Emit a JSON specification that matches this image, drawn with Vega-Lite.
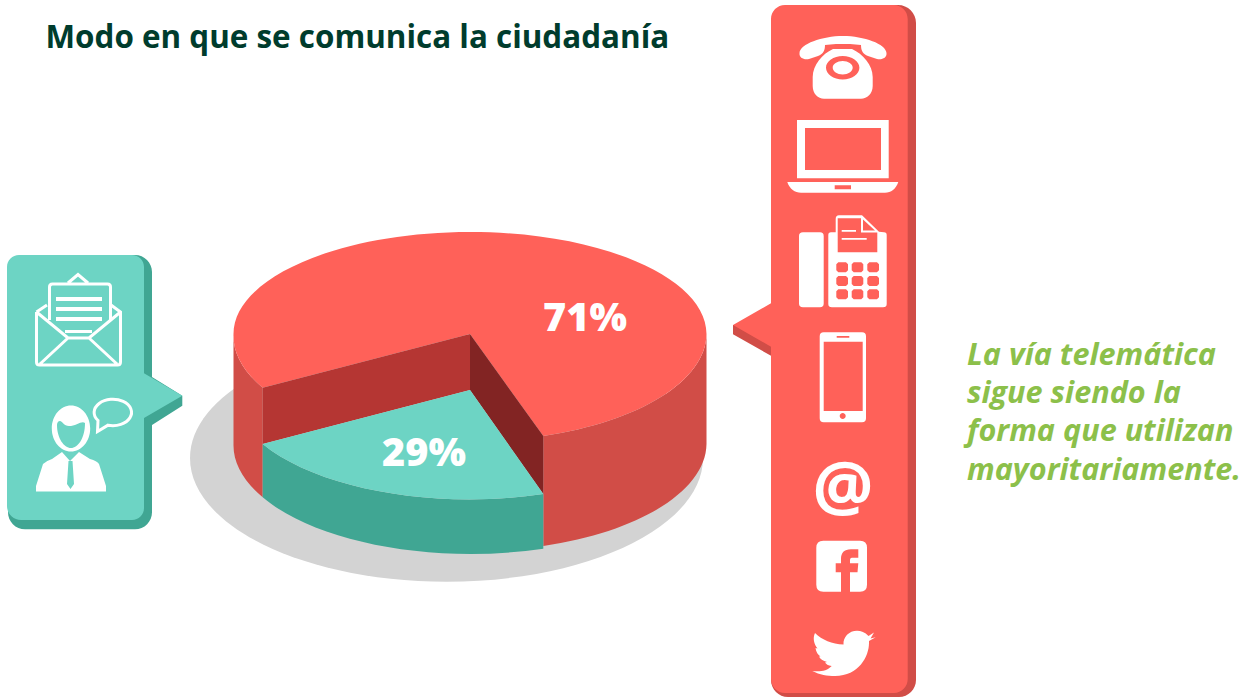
{
"$schema":"https://vega.github.io/schema/vega-lite/v6.json",
"width":1252,"height":697,"autosize":{"type":"fit","contains":"padding"},"padding":0,"background":"#ffffff",
"config":{"view":{"stroke":null}},
"datasets":{
"piezas":[
{"pieza":"sombra","x":470,"y":334},
{"pieza":"lado_izquierdo","x":470,"y":334},
{"pieza":"lado_derecho","x":470,"y":334},
{"pieza":"cara_71","x":470,"y":334},
{"pieza":"pared_izquierda","x":470,"y":334},
{"pieza":"pared_fondo","x":470,"y":334},
{"pieza":"lado_29","x":470,"y":334},
{"pieza":"cara_29","x":470,"y":334},
{"pieza":"globo_verde_fondo","x":0,"y":250},
{"pieza":"globo_verde","x":0,"y":250},
{"pieza":"globo_rojo_fondo","x":730,"y":0},
{"pieza":"globo_rojo","x":730,"y":0},
{"pieza":"lineas_carta","x":0,"y":250},
{"pieza":"persona","x":0,"y":250},
{"pieza":"telefono","x":730,"y":0},
{"pieza":"portatil","x":730,"y":0},
{"pieza":"fax","x":730,"y":0},
{"pieza":"movil","x":730,"y":310},
{"pieza":"facebook","x":730,"y":310},
{"pieza":"twitter","x":730,"y":310}
],
"trazos":[
{"pieza":"sobre","x":0,"y":250},
{"pieza":"bocadillo","x":0,"y":250}
],
"titulo":[{"texto":"Modo en que se comunica la ciudadanía","x":45.5,"y":48}],
"porcentajes":[{"categoria":"Vía telemática","valor":71,"texto":"71%","x":585,"y":331},{"categoria":"Otras vías","valor":29,"texto":"29%","x":424,"y":466}],
"arroba":[{"texto":"@","x":843,"y":510}],
"nota":[
{"texto":"La vía telemática","x":967,"y":365},
{"texto":"sigue siendo la","x":967,"y":403},
{"texto":"forma que utilizan","x":967,"y":441},
{"texto":"mayoritariamente.","x":967,"y":480}
]
},
"layer":[
{"data":{"name":"piezas"},
"mark":{"type":"point","filled":true,"size":4,"opacity":1,"strokeWidth":0},
"encoding":{
"x":{"field":"x","type":"quantitative","scale":{"domain":[0,1252],"nice":false,"zero":false},"axis":null},
"y":{"field":"y","type":"quantitative","scale":{"domain":[0,697],"range":[0,697],"nice":false,"zero":false},"axis":null},
"color":{"field":"pieza","type":"nominal","legend":null,"scale":{
"domain":["sombra","lado_izquierdo","lado_derecho","cara_71","pared_izquierda","pared_fondo","lado_29","cara_29","globo_verde_fondo","globo_verde","globo_rojo_fondo","globo_rojo","lineas_carta","persona","telefono","portatil","fax","movil","facebook","twitter"],
"range":["#d3d3d3","#d14d47","#d14d47","#ff6159","#b53633","#822423","#40a693","#6dd4c4","#40a693","#6dd4c4","#d14d47","#ff6159","#ffffff","#ffffff","#ffffff","#ffffff","#ffffff","#ffffff","#ffffff","#ffffff"]}},
"shape":{"field":"pieza","type":"nominal","legend":null,"scale":{
"domain":["sombra","lado_izquierdo","lado_derecho","cara_71","pared_izquierda","pared_fondo","lado_29","cara_29","globo_verde_fondo","globo_verde","globo_rojo_fondo","globo_rojo","lineas_carta","persona","telefono","portatil","fax","movil","facebook","twitter"],
"range":[
"M-280 124 A256.5 123.7 0 1 0 233 124 A256.5 123.7 0 1 0 -280 124 Z",
"M-236.5 0 A236.5 108 0 0 0 -207.3 53.7 L-207.3 163.3 A236.5 108 0 0 1 -236.5 110 Z",
"M73.3 102 A236.5 108 0 0 0 236.5 0 L236.5 110 A236.5 108 0 0 1 73.3 212 Z",
"M-207.3 53.7 L0 0 L73.3 102 A236.5 108 0 0 0 236.5 0 A236.5 102 0 0 0 -236.5 0 A236.5 108 0 0 0 -207.3 53.7 Z",
"M-207.3 53.7 L0 0 L0 56 L-207.3 110 Z",
"M0 0 L73.3 102 L73.3 160 L0 56 Z",
"M-207.3 110 A236.5 108 0 0 0 73.3 160 L73.3 214.7 A236.5 108 0 0 1 -207.3 163.3 Z",
"M0 56 L-207.3 110 A236.5 108 0 0 0 73.3 160 Z",
"M20 5 L135 5 A17 17 0 0 1 152 22 L152 127 L182.3 145.7 L182.3 155.7 L152 175 L152 262 A17 17 0 0 1 135 279.3 L25 279.3 A17 17 0 0 1 8 262 L8 17 Z",
"M19 5 L132 5 A12 12 0 0 1 144 17 L144 123.3 L182.3 145.7 L144 168 L144 258 A12 12 0 0 1 132 270 L21 270 A14 14 0 0 1 7 256 L7 17 A12 12 0 0 1 19 5 Z",
"M60 5 L168 5 A18 18 0 0 1 186 23 L186 680 A17 17 0 0 1 169 697 L58 697 A17 17 0 0 1 41 680 L41 19 Z M3 325 L41 325 L41 355.7 L3 334.3 Z",
"M55 5 L164 5 A14 14 0 0 1 177.7 19 L177.7 679 A14 14 0 0 1 164 693 L55 693 A14 14 0 0 1 41 679 L41 346.7 L3 325 L41 303.3 L41 19 A14 14 0 0 1 55 5 Z",
"M56 47 L102 47 L102 51 L56 51 Z M56 57 L102 57 L102 61 L56 61 Z M56 67 L102 67 L102 71 L56 71 Z",
"M51.8 178.5 A19.2 23 0 1 1 90.2 178.5 A19.2 23 0 1 1 51.8 178.5 Z M57 175 C57 188 64 198 71 198 C78 198 85 188 85 173 C82 170 76 176 69 176 C64 176 62 171 60 171 C58 171 57 173 57 175 Z M36 241.5 L36 236 L43 214 Q46 211 52 209 L62 202 L70 211 L79 202 L90 209 Q97 211 99 214 L106 236 L106 241.5 Z M68.5 211 L67 234 L70.5 239 L74 234 L72.5 211 Z",
"M69.5 53 C70 44 92 36 113 36 C134 36 156 44 156.5 53 C157 58 152 60 147 59 L138 56 C133 54 131 51 131 45 L120 44 L106 44 L95 45 C95 51 93 54 88 56 L79 59 C74 60 69 58 69.5 53 Z M82.7 77 C83 65 92 54 103 49 L122 49 C133 54 142.7 65 142.7 77 L142.7 86 C142.7 94 137 98.7 131 98.7 L94 98.7 C88 98.7 82.7 94 82.7 86 Z M96 67.7 A16.7 11.7 0 1 0 129.4 67.7 A16.7 11.7 0 1 0 96 67.7 Z M102.7 67.7 A10 6.7 0 1 1 122.7 67.7 A10 6.7 0 1 1 102.7 67.7 Z",
"M67 120 L158.7 120 L158.7 178.3 L67 178.3 Z M75 128 L75 170 L151 170 L151 128 Z M57.3 182 L168.3 182 C166 189 161 192.7 155 192.7 L71 192.7 C65 192.7 59.5 189 57.3 182 Z M104.7 185.3 L104.7 189.3 L121 189.3 L121 185.3 Z",
"M69 236 Q69 232.3 73 232.3 L90 232.3 Q93.7 232.3 93.7 236 L93.7 303.5 Q93.7 307.3 90 307.3 L73 307.3 Q69 307.3 69 303.5 Z M98.3 235 Q98.3 232.3 101 232.3 L105.7 232.3 L105.7 219 Q105.7 215.3 109 215.3 L132 215.3 L149 231.7 L154 232.3 Q156.7 232.3 156.7 235 L156.7 304 Q156.7 307.3 153 307.3 L102 307.3 Q98.3 307.3 98.3 304 Z M107.7 218.3 L107.7 252.3 L147.3 252.3 L147.3 232.5 L131 232.5 L131 218.3 Z M133 219.5 L133 230.5 L145 230.5 Z M111.7 230 L126 230 L126 231.7 L111.7 231.7 Z M111.7 238 L136.7 238 L136.7 239.7 L111.7 239.7 Z M108.3 262.3 L106.3 264.3 L106.3 270.3 L108.3 272.3 L116 272.3 L118 270.3 L118 264.3 L116 262.3 Z M123.7 262.3 L121.7 264.3 L121.7 270.3 L123.7 272.3 L131.3 272.3 L133.3 270.3 L133.3 264.3 L131.3 262.3 Z M139.3 262.3 L137.3 264.3 L137.3 270.3 L139.3 272.3 L147 272.3 L149 270.3 L149 264.3 L147 262.3 Z M108.3 276 L106.3 278 L106.3 284 L108.3 286 L116 286 L118 284 L118 278 L116 276 Z M123.7 276 L121.7 278 L121.7 284 L123.7 286 L131.3 286 L133.3 284 L133.3 278 L131.3 276 Z M139.3 276 L137.3 278 L137.3 284 L139.3 286 L147 286 L149 284 L149 278 L147 276 Z M108.3 289.3 L106.3 291.3 L106.3 297.3 L108.3 299.3 L116 299.3 L118 297.3 L118 291.3 L116 289.3 Z M123.7 289.3 L121.7 291.3 L121.7 297.3 L123.7 299.3 L131.3 299.3 L133.3 297.3 L133.3 291.3 L131.3 289.3 Z M139.3 289.3 L137.3 291.3 L137.3 297.3 L139.3 299.3 L147 299.3 L149 297.3 L149 291.3 L147 289.3 Z",
"M93.7 22.3 L132 22.3 Q136 22.3 136 26.3 L136 108.3 Q136 112.3 132 112.3 L93.7 112.3 Q89.7 112.3 89.7 108.3 L89.7 26.3 Q89.7 22.3 93.7 22.3 Z M93.7 31.7 L93.7 101 L132.7 101 L132.7 31.7 Z M106.7 26 L106.7 27.7 L119.3 27.7 L119.3 26 Z M109.7 106 A3 3 0 1 0 115.7 106 A3 3 0 1 0 109.7 106 Z",
"M93.3 230.7 L130 230.7 Q137 230.7 137 237.7 L137 274.7 Q137 281.7 130 281.7 L93.3 281.7 Q86.3 281.7 86.3 274.7 L86.3 237.7 Q86.3 230.7 93.3 230.7 Z M128.3 239.3 L121 239.3 C114 239.3 111 243 111 249 L111 253.3 L105.7 253.3 L105.7 262.3 L111 262.3 L111 281.7 L120 281.7 L120 262.3 L127.5 262.3 L128.3 253.3 L120 253.3 L120 250 C120 248 121 247.7 123 247.7 L128.3 247.7 Z",
"M144 322.5 L138.5 326 C135 322 131 320.7 127 320.7 C119 320.7 113 327 113.5 334.5 C102 334 92 330 85 323 C82.5 328 84 334 87.5 338.5 L85.5 338 C86 342 88 345 90.5 346.5 L89 346.5 C90 349 93 351 97 352 L95 352.5 C96 354 98 355.5 101.7 356 C97 361 90 362 82.3 361 C90 365 97 366 105 366 C129 366 139 346 139 333 L139 331 L145.7 327.3 L140.5 328.5 Z"
]}}
}},
{"data":{"name":"trazos"},
"mark":{"type":"point","filled":false,"size":4,"opacity":1,"stroke":"#ffffff","strokeWidth":3},
"encoding":{
"x":{"field":"x","type":"quantitative","axis":null},
"y":{"field":"y","type":"quantitative","axis":null},
"shape":{"field":"pieza","type":"nominal","legend":null,"scale":{
"domain":["sobre","bocadillo"],
"range":[
"M36.5 62 L36.5 112 Q36.5 115 39.5 115 L117.5 115 Q120.5 115 120.5 112 L120.5 62 L111 55 M36.5 62 L47 55 M36.5 62 L68 88 L89 88 L120.5 62 M68 88 L40 114 M89 88 L117 114 M49.5 70 L49.5 37 Q49.5 34 52.5 34 L107.5 34 Q110.5 34 110.5 37 L110.5 70 M68 33 L78 24.5 L88 33 M65 81.5 L92 81.5",
"M98 170.5 A18.7 13.2 0 1 1 108 175.2 L97.5 181.5 Z"
]}}
}},
{"data":{"name":"titulo"},
"mark":{"type":"text","font":"Open Sans","fontWeight":700,"fontSize":31.4,"align":"left","baseline":"alphabetic","color":"#003c2d"},
"encoding":{"x":{"field":"x","type":"quantitative","axis":null},"y":{"field":"y","type":"quantitative","axis":null},"text":{"field":"texto"}}},
{"data":{"name":"porcentajes"},
"mark":{"type":"text","font":"Open Sans","fontWeight":800,"fontSize":39.6,"align":"center","baseline":"alphabetic","color":"#ffffff"},
"encoding":{"x":{"field":"x","type":"quantitative","axis":null},"y":{"field":"y","type":"quantitative","axis":null},"text":{"field":"texto"}}},
{"data":{"name":"arroba"},
"mark":{"type":"text","font":"Open Sans","fontWeight":700,"fontSize":68,"align":"center","baseline":"alphabetic","color":"#ffffff"},
"encoding":{"x":{"field":"x","type":"quantitative","axis":null},"y":{"field":"y","type":"quantitative","axis":null},"text":{"field":"texto"}}},
{"data":{"name":"nota"},
"mark":{"type":"text","font":"Open Sans","fontWeight":700,"fontStyle":"italic","fontSize":30.6,"align":"left","baseline":"alphabetic","color":"#8cc04a"},
"encoding":{"x":{"field":"x","type":"quantitative","axis":null},"y":{"field":"y","type":"quantitative","axis":null},"text":{"field":"texto"}}}
],
"resolve":{"scale":{"shape":"independent","color":"independent"}}
}
